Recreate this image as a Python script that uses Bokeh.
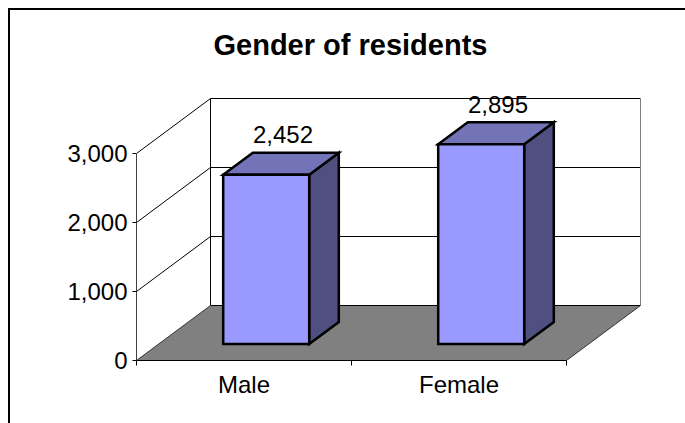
from bokeh.plotting import figure
from bokeh.embed import file_html
from bokeh.resources import INLINE
from bokeh.models import Range1d, FixedTicker, Title, NumeralTickFormatter
from bokeh.core.properties import value

categories = ["Male", "Female"]
residents = [2452, 2895]
y_ticks = [0, 1000, 2000, 3000]
title_text = "Gender of residents"

PX_X = 215.0          # px per category
PX_Y = 207 / 3000.0   # px per resident
DEPTH_X = 74 / PX_X   # wall depth in x units
DEPTH_Y = 55 / PX_Y   # wall depth in y units
X_MAX = len(categories)
Y_MAX = y_ticks[-1]
FONT = "Liberation Sans"


def proj(x, y, z):
    return x + z * DEPTH_X, y + z * DEPTH_Y


p = figure(width=675, height=413, output_backend="svg", toolbar_location=None,
           frame_width=514, frame_height=290,
           x_range=Range1d(0, 514 / PX_X), y_range=Range1d(0, 290 / PX_Y),
           min_border_left=126, min_border_right=35, min_border_top=60, min_border_bottom=63,
           outline_line_color=None, background_fill_color="white", border_fill_color="white")
p.grid.visible = False
p.styles = {"margin": "8px 0 0 8px", "border-top": "2px solid #000", "border-left": "2px solid #000",
            "box-sizing": "content-box"}

t = Title(text=title_text, align="left", text_font=FONT, text_font_size="29px",
          text_font_style="bold", text_color="black", offset=77, standoff=19)
p.add_layout(t, "above")

# floor
fx, fy = zip(*[proj(0, 0, 0), proj(X_MAX, 0, 0), proj(X_MAX, 0, 1), proj(0, 0, 1)])
p.patch(fx, fy, fill_color="#808080", line_color=None)

# walls: gridlines on the back and side
xs, ys = [], []
for tick in y_ticks[1:]:
    a, b, c = proj(0, tick, 0), proj(0, tick, 1), proj(X_MAX, tick, 1)
    xs.append([a[0], b[0], c[0]])
    ys.append([a[1], b[1], c[1]])
p.multi_line(xs, ys, line_color="black", line_width=1)
a, b = proj(0, 0, 1), proj(0, Y_MAX, 1)
p.line([a[0], b[0]], [a[1], b[1]], line_color="black", line_width=1)
a, b = proj(0, 0, 1), proj(X_MAX, 0, 1)
p.line([a[0], b[0]], [a[1], b[1]], line_color="black", line_width=1)
a, b, c = proj(X_MAX, Y_MAX, 1), proj(X_MAX, 0, 1), proj(X_MAX, 0, 0)
p.line([a[0], b[0]], [a[1], b[1]], line_color="#808080", line_width=1)
p.line([b[0], c[0]], [b[1], c[1]], line_color="#333333", line_width=1)
a, b = proj(0, 0, 0), proj(0, 0, 1)
p.line([a[0], b[0]], [a[1], b[1]], line_color="#333333", line_width=1)

# bars
Z0, Z1 = 0.3, 0.7
BAR_W = 0.4
for i, v in enumerate(residents):
    x0 = i + 0.3
    x1 = x0 + BAR_W
    front = [proj(x0, 0, Z0), proj(x1, 0, Z0), proj(x1, v, Z0), proj(x0, v, Z0)]
    side = [proj(x1, 0, Z0), proj(x1, 0, Z1), proj(x1, v, Z1), proj(x1, v, Z0)]
    top = [proj(x0, v, Z0), proj(x1, v, Z0), proj(x1, v, Z1), proj(x0, v, Z1)]
    for face, col in ((side, "#4F4F80"), (top, "#7373B8"), (front, "#9999FF")):
        px, py = zip(*face)
        p.patch(px, py, fill_color=col, line_color="black", line_width=2.5, line_join="miter")
    lx, ly = proj(i + 0.5, v, 0.5)
    p.text([lx], [ly], text=[f"{v:,}"], text_font=value(FONT), text_font_size="24px",
           text_color="black", text_align="center", text_baseline="alphabetic",
           x_offset=2, y_offset=-29)

# axes
xa = p.xaxis[0]
xa.bounds = (0, X_MAX)
xa.ticker = FixedTicker(ticks=[i + 0.5 for i in range(X_MAX)], minor_ticks=list(range(X_MAX + 1)))
xa.major_label_overrides = {i + 0.5: c for i, c in enumerate(categories)}
xa.major_tick_in = 0
xa.major_tick_out = 0
xa.minor_tick_in = 0
xa.minor_tick_out = 5
xa.minor_tick_line_color = "black"
xa.axis_line_color = "black"
xa.major_label_standoff = 5
xa.major_label_text_font = FONT
xa.major_label_text_font_size = "24px"
xa.major_label_text_color = "black"

ya = p.yaxis[0]
ya.bounds = (0, Y_MAX)
ya.ticker = FixedTicker(ticks=y_ticks)
ya.formatter = NumeralTickFormatter(format="0,0")
ya.major_tick_in = 0
ya.major_tick_out = 4
ya.minor_tick_line_color = None
ya.major_tick_line_color = "black"
ya.axis_line_color = "#404040"
ya.major_label_standoff = 5
ya.major_label_text_font = FONT
ya.major_label_text_font_size = "24px"
ya.major_label_text_color = "black"

open("out.html", "w").write(file_html(p, INLINE))
